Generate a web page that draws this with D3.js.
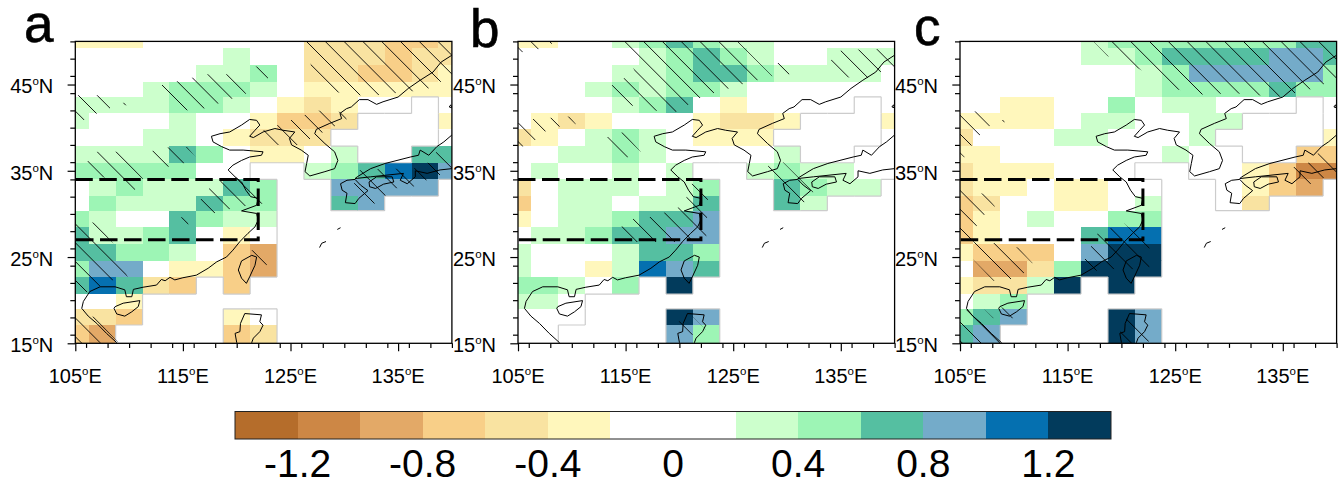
<!DOCTYPE html>
<meta charset="utf-8">
<style>
  html, body { margin: 0; background: #fff; }
  text { font-family: "Liberation Sans", Arial, sans-serif; fill: #000; }
</style>
<body>
<script src="https://d3js.org/d3.v7.min.js"></script>
<script>
// colour classes
const levels = [-1.2, -1.0, -0.8, -0.6, -0.4, -0.2, 0, 0.2, 0.4, 0.6, 0.8, 1.0, 1.2];
const colours = ['#b56d2b', '#cd8745', '#e3a967', '#f8cf88', '#f9e3a1', '#fff7bc', '#ffffff',
                 '#ffffff', '#ccffcc', '#9df5b5', '#55bfa1', '#74abc9', '#0570b0', '#023b5c'];
const barTicks = [-1.2, -0.8, -0.4, 0, 0.4, 0.8, 1.2];

// grid cell edges, degrees
const lonEdges = [103.75, 106.25, 108.75, 111.25, 113.75, 116.25, 118.75, 121.25, 123.75,
                  126.25, 128.75, 131.25, 133.75, 136.25, 138.75, 141.25];
const latEdges = [51.1, 49.18, 47.25, 45.31, 43.57, 41.65, 39.8, 37.86, 35.93, 34.0, 32.07,
                  30.37, 28.48, 26.5, 24.57, 22.68, 20.71, 19.0, 17.12, 15.07, 13.2];

const lonMajor = [105, 115, 125, 135];
const latMajor = [15, 25, 35, 45];
const lonMinor = d3.range(106, 141, 2);
const latMinor = d3.range(16, 51, 2);

// anomalies, north to south, west to east
const panelA = [
  [-.3,-.3,-.3,0,0,0,0,0,0,-.5,-.5,-.5,-.7,-.7,-.5],
  [0,0,0,0,0,0,.3,0,0,-.5,-.5,-.5,-.7,-.5,-.5],
  [0,0,0,0,0,.3,.3,.5,0,-.5,-.5,-.7,-.7,-.5,-.3],
  [0,0,0,.3,.5,.5,.5,.3,0,-.3,-.3,-.3,-.3,-.3,-.3],
  [.3,.3,.3,.3,.5,.5,.3,0,-.3,-.5,-.3,0,0,0,0],
  [.3,0,0,0,.3,0,0,-.3,-.7,-.7,-.5,0,0,0,-.3],
  [0,0,0,.3,.3,0,-.3,-.5,-.5,-.5,0,0,0,0,0],
  [.3,.3,.3,.3,.7,.5,0,-.3,-.3,0,.3,0,0,.7,.7],
  [.5,.5,.5,.5,.5,0,0,0,0,.3,.5,.7,1.1,1.3,.9],
  [0,.3,.5,.3,.3,.3,.7,.5,0,0,.9,.9,.9,.9,0],
  [0,.5,.3,.3,.3,.7,.5,.5,0,0,.7,.9,0,0,0],
  [.5,.3,0,0,.7,.5,.3,.3,0,0,0,0,0,0,0],
  [.7,.3,.3,.5,.7,0,-.3,0,0,0,0,0,0,0,0],
  [.7,.7,.5,.5,.3,0,-.7,-.9,0,0,0,0,0,0,0],
  [.5,.9,.9,0,-.3,-.3,-.7,-.9,0,0,0,0,0,0,0],
  [.7,1.1,.7,-.5,-.7,0,-.7,0,0,0,0,0,0,0,0],
  [0,0,-.3,0,0,0,0,0,0,0,0,0,0,0,0],
  [-.5,-.5,-.7,0,0,0,-.3,0,0,0,0,0,0,0,0],
  [-.7,-.9,0,0,0,0,-.7,-.5,0,0,0,0,0,0,0],
  [0,0,-.5,0,0,0,0,0,-.5,0,0,0,0,0,0]
];
const panelB = [
  [-.3,-.3,0,0,.3,.5,.7,.5,.3,.3,0,0,0,0,0],
  [0,0,0,0,0,.3,.5,.7,.5,.3,0,0,.3,.3,.3],
  [0,0,0,0,.3,.3,.5,.7,.7,.5,.3,.3,.3,.3,0],
  [0,0,0,.3,.5,.3,.5,.5,.3,0,0,0,0,0,0],
  [0,0,0,0,.3,.5,.7,0,-.3,0,0,0,0,0,0],
  [0,-.3,-.5,-.3,0,0,0,-.3,-.5,-.5,-.3,0,0,0,-.3],
  [-.5,-.3,0,.3,.5,.3,0,-.3,-.3,-.3,0,0,0,0,0],
  [0,0,.3,.3,.5,.3,0,0,0,0,.3,0,0,0,0],
  [0,.3,0,0,.3,0,.3,0,0,.3,.5,.3,.3,0,0],
  [-.5,0,.3,.3,.3,0,.3,.5,0,0,.7,.5,.3,.3,0],
  [-.7,0,.3,.3,0,.3,.3,.7,0,0,.7,.3,0,0,0],
  [-.3,0,.3,.3,.5,.7,.7,.9,0,0,0,0,0,0,0],
  [0,.3,.3,.5,.7,.7,.9,.9,0,0,0,0,0,0,0],
  [.3,0,0,0,.3,.7,.7,.5,0,0,0,0,0,0,0],
  [.3,0,0,-.3,.3,1.1,.9,.7,0,0,0,0,0,0,0],
  [.5,.5,.3,0,.5,0,1.3,0,0,0,0,0,0,0,0],
  [.3,.3,0,0,0,0,0,0,0,0,0,0,0,0,0],
  [0,0,0,0,0,0,1.3,.9,0,0,0,0,0,0,0],
  [0,0,0,0,0,0,.9,.5,0,0,0,0,0,0,0],
  [-.3,0,.3,0,0,0,0,0,.3,0,0,0,0,0,0]
];
const panelC = [
  [0,0,0,0,0,.3,.5,.5,.5,.5,.5,.5,.5,.7,.7],
  [0,0,0,0,0,.3,.3,.5,.7,.7,.7,.7,.9,.9,.7],
  [0,0,0,0,0,0,0,.3,.5,.9,.9,.9,.9,.9,.5],
  [0,0,0,0,0,0,0,.3,.5,.5,.5,.5,.7,.5,.5],
  [0,0,-.3,-.3,0,0,.5,0,.3,.3,0,0,0,0,0],
  [-.3,-.3,-.3,-.3,0,.3,.3,0,0,.3,.3,0,0,0,0],
  [-.5,0,0,0,.3,.3,0,0,0,.3,0,0,0,0,-.3],
  [-.3,-.3,0,0,0,0,0,0,.3,0,0,0,0,-.7,-.7],
  [-.5,-.3,-.3,-.3,0,0,0,0,0,0,0,-.3,-.7,-1.1,-1.1],
  [-.5,-.3,-.3,0,-.3,-.3,0,0,0,0,0,-.3,-.7,-.9,0],
  [-.7,-.5,0,0,-.3,-.3,0,.3,0,0,0,-.5,0,0,0],
  [-.7,-.3,0,.3,0,0,.5,.5,0,0,0,0,0,0,0],
  [-.7,-.3,0,0,0,.7,1.1,1.1,0,0,0,0,0,0,0],
  [-.3,-.7,-.7,-.7,0,.9,1.3,1.3,0,0,0,0,0,0,0],
  [0,-.9,-.9,-.5,.5,1.3,1.3,1.3,0,0,0,0,0,0,0],
  [-.3,-.5,-.5,.3,1.3,0,1.3,0,0,0,0,0,0,0,0],
  [0,.3,.5,0,0,0,0,0,0,0,0,0,0,0,0],
  [.5,.7,.9,0,0,0,1.3,.9,0,0,0,0,0,0,0],
  [.7,.9,0,0,0,0,1.3,.9,0,0,0,0,0,0,0],
  [0,0,.9,0,0,0,0,0,.5,0,0,0,0,0,0]
];

// ocean cells with no data, column indices per row
const oceanAll = [8, 9, 10, 11, 12, 13, 14];
const noData = [[], [], [], [], [13], [11, 12, 13], [10, 11, 12, 13], [11, 12], [7, 8],
  [8, 9, 14], [8, 9, 12, 13, 14], oceanAll, oceanAll, oceanAll, oceanAll,
  [5, 7].concat(oceanAll), [3, 4, 5, 6, 7].concat(oceanAll), [3, 4, 5].concat(oceanAll),
  [2, 3, 4, 5].concat(oceanAll)];

// significant areas [lon, lat]
const hatchA = [
  [[126.3,50],[140,50],[140,46.05],[137.6,44.4],[133,43.75],[130.8,43.75],[128.5,44.3],[126.95,47]],
  [[105,43.75],[108.4,43.75],[108.2,42],[106.7,41.55],[105.75,40.85],[105,41.6]],
  [[109.4,42.9],[109.8,42.9],[109.8,42.6],[109.4,42.6]],
  [[112.85,44.9],[117.2,46.2],[119.35,46.2],[120.9,43.95],[119.35,43.25],[116.9,42.2],[115.2,42],[113,44.7]],
  [[121.55,47.1],[122.9,47.1],[122.9,45.55],[121.55,45.55]],
  [[122.45,39.7],[123.85,40.3],[127.4,42],[130.2,41.8],[130.2,40.85],[126.65,38.6],[125.25,37.75],[123.55,38.05]],
  [[106.05,36],[107,37.2],[109,37.2],[111.3,34.1],[110.45,32.65],[109.45,33.7],[107.3,34.35]],
  [[112.1,37.3],[113.8,37.75],[115.4,37.75],[116.35,36.3],[115,35.85],[113.5,35.45]],
  [[116.6,31.6],[117.8,33.5],[119.7,34.3],[122.45,32.75],[122.45,31.2],[120.6,30.9],[119.2,30.5],[117.8,30.05]],
  [[114.8,29.6],[115.5,29.6],[115.5,28.7],[114.8,28.7]],
  [[105,29],[107,29],[108.5,26.6],[109.9,22.6],[108.85,22.5],[106,20.85],[105,21.9]],
  [[105,17.9],[106.8,18.1],[109,15.1],[105,15]],
  [[130.8,34.3],[131.4,35.05],[133.6,35.25],[136.4,35.25],[138.25,36.2],[138.55,37.2],[140,35.65],[140,35.05],[137.65,33.9],[136.4,33.15],[134.55,32.95],[133,31.2],[132.5,31.2],[131.1,32.35]],
  [[121.2,25.8],[122.8,25.8],[122.8,24.05],[121.2,24.05]]
];
const hatchB = [
  [[114.8,50],[125.45,50],[128.65,45.95],[126,45.1],[123.15,44],[121.75,43.35],[119.5,41.7],[117.65,42],[115.45,42.6],[113.6,44.8],[115.85,46.45]],
  [[129,47.5],[130.2,47.5],[130.2,46.05],[129,46.05]],
  [[134,47.7],[135.05,49],[140,49.15],[140,46.8],[138.65,46.45],[137.4,45.7],[135.5,45.85]],
  [[105,50],[108.3,50],[108,49.55],[106.8,49.05],[105.35,48.75],[105,49.15]],
  [[105,40.5],[106.4,41],[109.8,41.3],[110.4,40.4],[108.75,40.1],[107.4,39.5],[106.5,38.45],[105.35,37.75],[105,38.15]],
  [[113.25,38.9],[114.8,39.5],[116.4,37.2],[115.1,36.5]],
  [[128.25,35.65],[129.65,36],[132.45,32.55],[131.5,31.2],[128.25,34.85]],
  [[114.6,28.5],[115.7,29.45],[117.25,29.65],[118.5,30.1],[119.9,30.75],[120.65,31.9],[121.15,33.5],[122.05,33.7],[122.65,32],[122.5,27.35],[120.95,26.75],[115.7,26.75]],
  [[119.9,17.5],[121.2,18.15],[122.45,16.55],[121.15,15.95]]
];
const hatchC = [
  [[117.4,50],[140,50],[140,45.65],[138.75,45],[137.45,44.4],[134.55,43.55],[130.5,44],[127.45,43.85],[125.3,44.4],[121.55,46.85],[118.7,48.3]],
  [[105,41.6],[106.5,41.9],[107.8,40.25],[106.8,39.1],[106.05,37.9],[105.4,36.55],[105,37]],
  [[108.85,40.9],[109.15,40.9],[109.15,40.6],[108.85,40.6]],
  [[105,33],[105.6,32.55],[107.3,32.35],[108.25,30.9],[107.2,29.85],[106.5,28.55],[106.25,26.65],[105,26.55]],
  [[106.25,26.75],[108.4,26.6],[110.4,26.1],[111.75,24.3],[110.9,23.1],[109.65,22.4],[108.1,22.25],[106.25,24.65]],
  [[135,35.05],[137.35,35.9],[138.3,37.05],[140,35.25],[140,34.85],[137.5,33.45],[135.95,33.45]],
  [[116.6,24.7],[117.75,27.7],[120.2,28.95],[122,26.95],[122.6,26.2],[122.6,23.8],[120.2,23.5],[119.3,23.6],[117.55,23.4]],
  [[105,18.9],[107.3,18.9],[108.15,17.9],[106.5,17.9],[108.9,15],[105,15]],
  [[108.8,19.15],[109.95,19.15],[109.95,17.9],[108.8,17.9]],
  [[119.8,16.1],[120.5,18],[122.6,15.3],[122.35,15],[119.9,15]]
];

// coastlines [lon, lat]
const coasts = [
  [[141,49],[140,48.4],[139,47.6],[138.25,46.45],[137.05,45.5],[135.95,44.55],[135,43.55],[133.6,43],[133,42.7],[132.2,43.25],[131.4,43.25],[130.65,42.4],[130.2,42.2],[129.6,41.65],[129.75,41.05],[128.65,40.5],[127.4,39.8],[127.25,39.3],[128.2,38.15],[129.1,37.2],[129.4,36.2],[129.1,35.25],[128.2,34.9],[126.8,34.4],[126.35,34.9],[126.5,35.85],[126.65,36.8],[126,37.4],[125.1,38],[124.9,38.75],[125.4,39.5],[124.3,39.7],[123.55,39.9],[122.45,39.5],[121.55,38.85],[121.2,39],[121.7,39.7],[122.15,40.3],[121.85,40.85],[121.2,40.95],[120.45,40.3],[119.35,39.5],[118.45,39.3],[117.65,39],[117.8,38.35],[118.6,37.8],[119.35,37.4],[120.6,37.4],[121.55,37.3],[122.45,37.2],[122.3,36.8],[121.2,36.6],[120.45,36.2],[119.65,35.65],[119.2,35.1],[119.85,34.3],[120.45,33.7],[120.85,32.75],[121.3,32],[122,31.8],[121.85,31],[120.45,30.35],[121.85,30.05],[122,29.3],[121.7,28.5],[121.05,27.75],[120.3,26.8],[119.65,25.8],[119.05,25],[118.15,24.45],[117.35,23.7],[116.25,22.9],[115,22.6],[114.25,22.35],[113.8,22.65],[113.35,22.25],[113,22.4],[112.55,21.75],[111.3,21.5],[110.4,21.25],[110.25,20.4],[109.75,20.4],[109.6,21.2],[108.7,21.55],[107.3,21.55],[106.35,21],[105.75,19.85],[105.6,19.05],[106.2,18.15],[107,17.3],[107.9,16.15],[108.85,15.08],[109.3,14.4]],
  [[108.7,19.25],[109.45,19.65],[111,19.95],[110.85,19.25],[110.25,18.65],[109.6,18.15],[108.85,18.4],[108.6,19.05],[108.7,19.25]],
  [[121.4,25.2],[121.85,25],[121.7,24.05],[121.2,22.7],[120.9,21.95],[120.45,22.55],[120.15,23.5],[120.45,24.55],[121.4,25.2]],
  [[120,14.5],[120,15.1],[119.85,16.15],[120.3,16.35],[120.35,17.3],[120.75,18.45],[122.3,18.3],[122.15,17.5],[122.45,17.1],[122.15,16.35],[121.55,15.6],[121.4,15.1],[121.6,14.5]],
  [[141,40],[140,39.15],[139.25,38.35],[138.6,37.8],[137.85,36.8],[137.05,37.4],[136.9,36.8],[136.15,36.6],[133.8,35.85],[132.45,35.25],[131.2,34.3],[131,34.1],[132.45,34.3],[135.5,34.7],[135.2,33.9],[135.85,33.5],[136.6,34.3],[136.6,35],[137.7,34.7],[138.9,35.1],[140,35.25],[141,35.6]],
  [[132.3,33.7],[133,34.3],[134.45,34.3],[134.6,33.7],[133.65,33.45],[132.9,32.95],[132.35,33.15],[132.3,33.7]],
  [[129.65,33.5],[130.25,33.9],[131,34],[131.5,33.35],[132.2,32.7],[131.35,31.8],[131,31.2],[130.1,31.3],[130.25,32.4],[129.8,32.75],[129.65,33.5]],
  [[129.35,28.2],[129.65,28.4]],
  [[127.7,26.1],[127.9,26.6],[128.3,26.8]],
  [[139.75,42.4],[139.9,42.65],[140,42.3],[139.75,42.4]]
];

// study box
const boxLon = [105, 122];
const boxLat = [27, 34];

const panels = [
  { name: 'a', left: 75.3, data: panelA, hatch: hatchA, phase: 1.7, nameX: 24, nameY: 41.5 },
  { name: 'b', left: 518, data: panelB, hatch: hatchB, phase: 8.9, nameX: 470, nameY: 46.5 },
  { name: 'c', left: 960, data: panelC, hatch: hatchC, phase: 16.4, nameX: 914, nameY: 44.5 }
];

const plotWidth = 376.6, plotTop = 41.4, plotBottom = 343.3;

const svg = d3.select('body').append('svg').attr('width', 1344).attr('height', 482);
const colour = d3.scaleThreshold().domain(levels).range(colours);

panels.forEach(function(p, pi) {
  const x = d3.scaleLinear().domain([105, 140]).range([p.left, p.left + plotWidth]);
  const y = d3.scaleLinear().domain([15, 50]).range([plotBottom, plotTop]);
  const geo = d3.line().x(d => x(d[0])).y(d => y(d[1]));

  const defs = svg.append('defs');
  defs.append('clipPath').attr('id', 'plot' + pi).append('rect')
    .attr('x', p.left).attr('y', plotTop).attr('width', plotWidth).attr('height', plotBottom - plotTop);
  defs.append('clipPath').attr('id', 'sig' + pi).append('path')
    .attr('d', p.hatch.map(h => geo(h) + 'Z').join(''));

  const g = svg.append('g');
  const plot = g.append('g').attr('clip-path', 'url(#plot' + pi + ')');

  // cells
  const cells = [];
  p.data.forEach((row, r) => row.forEach((v, c) => { if (v !== 0) cells.push({ r, c, v }); }));
  plot.append('g').selectAll('rect').data(cells).join('rect')
    .attr('x', d => x(lonEdges[d.c]))
    .attr('y', d => y(latEdges[d.r]))
    .attr('width', d => x(lonEdges[d.c + 1]) - x(lonEdges[d.c]))
    .attr('height', d => y(latEdges[d.r + 1]) - y(latEdges[d.r]))
    .attr('fill', d => colour(d.v))
    .attr('shape-rendering', 'crispEdges');

  // grey outline of the no data cells
  const isNoData = (r, c) => c >= 0 && c < 15 && r >= 0 && r < noData.length && noData[r].includes(c);
  const inGrid = (r, c) => c >= 0 && c < 15 && r >= 0 && r < noData.length;
  const edges = [];
  noData.forEach((cols, r) => cols.forEach(c => {
    if (inGrid(r - 1, c) && !isNoData(r - 1, c)) edges.push([[lonEdges[c], latEdges[r]], [lonEdges[c + 1], latEdges[r]]]);
    if (inGrid(r + 1, c) && !isNoData(r + 1, c)) edges.push([[lonEdges[c], latEdges[r + 1]], [lonEdges[c + 1], latEdges[r + 1]]]);
    if (inGrid(r, c - 1) && !isNoData(r, c - 1)) edges.push([[lonEdges[c], latEdges[r]], [lonEdges[c], latEdges[r + 1]]]);
    if (inGrid(r, c + 1) && !isNoData(r, c + 1)) edges.push([[lonEdges[c + 1], latEdges[r]], [lonEdges[c + 1], latEdges[r + 1]]]);
  }));
  plot.append('g').selectAll('path').data(edges).join('path')
    .attr('d', geo).attr('fill', 'none').attr('stroke', '#cccccc').attr('stroke-width', 1.2);

  // hatching inside the significant areas
  const step = 18.8;
  const hatchLines = d3.range(-20, 40).map(k => p.left + p.phase + k * step);
  plot.append('g').attr('clip-path', 'url(#sig' + pi + ')')
    .selectAll('line').data(hatchLines).join('line')
    .attr('x1', d => d).attr('y1', 0)
    .attr('x2', d => d + 400).attr('y2', 400)
    .attr('stroke', '#000').attr('stroke-width', 0.9);

  // coast
  plot.append('g').selectAll('path').data(coasts).join('path')
    .attr('d', geo).attr('fill', 'none').attr('stroke', '#000').attr('stroke-width', 1.0)
    .attr('stroke-linejoin', 'round');

  // box
  g.append('path')
    .attr('d', geo([[boxLon[0], boxLat[1]], [boxLon[1], boxLat[1]], [boxLon[1], boxLat[0]], [boxLon[0], boxLat[0]]]))
    .attr('fill', 'none').attr('stroke', '#000').attr('stroke-width', 3)
    .attr('stroke-dasharray', '17.5 6.5');

  // ticks
  const xMinorAxis = d3.axisBottom(x).tickValues(lonMinor).tickSize(4.6).tickFormat('');
  const xMajorAxis = d3.axisBottom(x).tickValues(lonMajor).tickSize(8).tickFormat('');
  const yMinorAxis = d3.axisLeft(y).tickValues(latMinor).tickSize(5).tickFormat('');
  const yMajorAxis = d3.axisLeft(y).tickValues(latMajor).tickSize(7.7).tickFormat('');
  [xMinorAxis, xMajorAxis].forEach(a => {
    const t = g.append('g').attr('transform', 'translate(0,' + plotBottom + ')').call(a);
    t.select('.domain').remove();
    t.selectAll('line').attr('stroke-width', 1.2);
  });
  [yMinorAxis, yMajorAxis].forEach(a => {
    const t = g.append('g').attr('transform', 'translate(' + p.left + ',0)').call(a);
    t.select('.domain').remove();
    t.selectAll('line').attr('stroke-width', 1.2);
  });

  // frame
  g.append('rect')
    .attr('x', p.left).attr('y', plotTop).attr('width', plotWidth).attr('height', plotBottom - plotTop)
    .attr('fill', 'none').attr('stroke', '#000').attr('stroke-width', 1.3);

  // tick labels with the raised degree sign
  function degreeLabel(sel, value, hemi) {
    sel.append('tspan').text(value);
    sel.append('tspan').attr('font-size', 11.5).attr('dy', -8).text('o');
    sel.append('tspan').attr('dy', 8).text(hemi);
  }
  lonMajor.forEach(lon => {
    g.append('text').attr('x', x(lon)).attr('y', 383).attr('text-anchor', 'middle')
      .attr('font-size', 20).call(degreeLabel, lon, 'E');
  });
  latMajor.forEach(lat => {
    g.append('text').attr('x', p.left - 22).attr('y', y(lat) + 8.8).attr('text-anchor', 'end')
      .attr('font-size', 20).call(degreeLabel, lat, 'N');
  });

  g.append('text').attr('x', p.nameX).attr('y', p.nameY).attr('font-size', 53)
    .attr('stroke', '#000').attr('stroke-width', 0.6).text(p.name);
});

// colour bar
const barX = d3.scaleLinear().domain([-1.4, 1.4]).range([235, 1111]);
const barEdges = [-1.4].concat(levels, [1.4]);
const bar = svg.append('g');
bar.selectAll('rect').data(colours).join('rect')
  .attr('x', (d, i) => barX(barEdges[i]))
  .attr('y', 411.5)
  .attr('width', (d, i) => barX(barEdges[i + 1]) - barX(barEdges[i]))
  .attr('height', 27.5)
  .attr('fill', d => d)
  .attr('shape-rendering', 'crispEdges');
bar.append('rect').attr('x', 235).attr('y', 411.5).attr('width', 876).attr('height', 27.5)
  .attr('fill', 'none').attr('stroke', '#222').attr('stroke-width', 1);
bar.selectAll('text').data(barTicks).join('text')
  .attr('x', d => barX(d)).attr('y', 477)
  .attr('text-anchor', 'middle').attr('font-size', 39)
  .text(d => d);
</script>
</body>
